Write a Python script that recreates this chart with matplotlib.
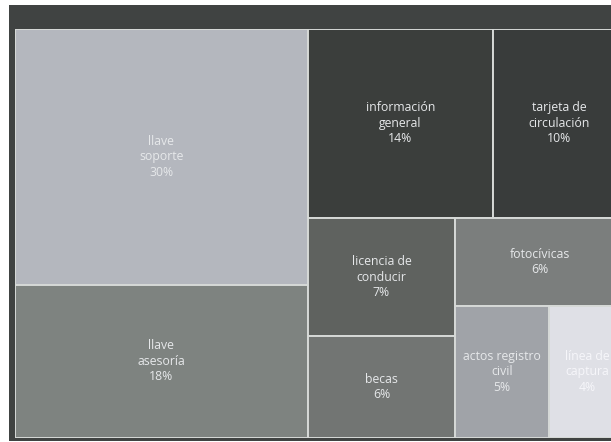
import matplotlib
matplotlib.use("Agg")
import matplotlib.pyplot as plt
from matplotlib.patches import Rectangle

# treemap data (percent of requests)
names = ["llave soporte", "llave asesoría", "información general",
         "tarjeta de circulación", "licencia de conducir", "becas",
         "fotocívicas", "actos registro civil", "línea de captura"]
labels = ["llave\nsoporte", "llave\nasesoría", "información\ngeneral",
          "tarjeta de\ncirculación", "licencia de\nconducir", "becas",
          "fotocívicas", "actos registro\ncivil", "línea de\ncaptura"]
values = [30, 18, 14, 10, 7, 6, 6, 5, 4]
colors = ["#b4b7be", "#7e8380", "#3b3e3c", "#393c3b", "#5f625f",
          "#727573", "#7b7e7d", "#a0a3a8", "#dfe0e6"]
text_colors = ["#e6e8ea"] * 8 + ["#f6f6fa"]

# split structure: 'h' = side by side, 'v' = stacked
layout = ("h", [("v", [0, 1]),
                ("v", [("h", [2, 3]),
                       ("h", [("v", [4, 5]),
                              ("v", [6, ("h", [7, 8])])])])])


def total(node):
    if isinstance(node, int):
        return values[node]
    return sum(total(c) for c in node[1])


def place(node, x, y, w, h, out):
    if isinstance(node, int):
        out[node] = (x, y, w, h)
        return
    direction, children = node
    s = total(node)
    for c in children:
        frac = total(c) / s
        if direction == "h":
            place(c, x, y, w * frac, h, out)
            x += w * frac
        else:
            place(c, x, y, w, h * frac, out)
            y += h * frac


rects = {}
place(layout, 0, 0, 1, 1, rects)

W, H = 611, 442
fig = plt.figure(figsize=(W / 100, H / 100), dpi=100)
fig.patch.set_facecolor("white")

# dark frame around the treemap
bg = fig.add_axes([9 / W, 1 / H, 1, 436 / H])
bg.set_facecolor("#404342")
bg.set_xticks([])
bg.set_yticks([])
for s in bg.spines.values():
    s.set_visible(False)

ax = fig.add_axes([15 / W, 4 / H, 610 / W, 409 / H])
ax.set_xlim(0, 1)
ax.set_ylim(1, 0)
ax.axis("off")

for i in range(len(values)):
    x, y, w, h = rects[i]
    ax.add_patch(Rectangle((x, y), w, h, facecolor=colors[i],
                           edgecolor="#d6d9d7", linewidth=1.4))
    ax.text(x + w / 2, y + h / 2, "%s\n%d%%" % (labels[i], values[i]),
            ha="center", va="center", color=text_colors[i], fontsize=8.8,
            family="Open Sans", linespacing=1.25)

plt.savefig("out.png", dpi=100)
